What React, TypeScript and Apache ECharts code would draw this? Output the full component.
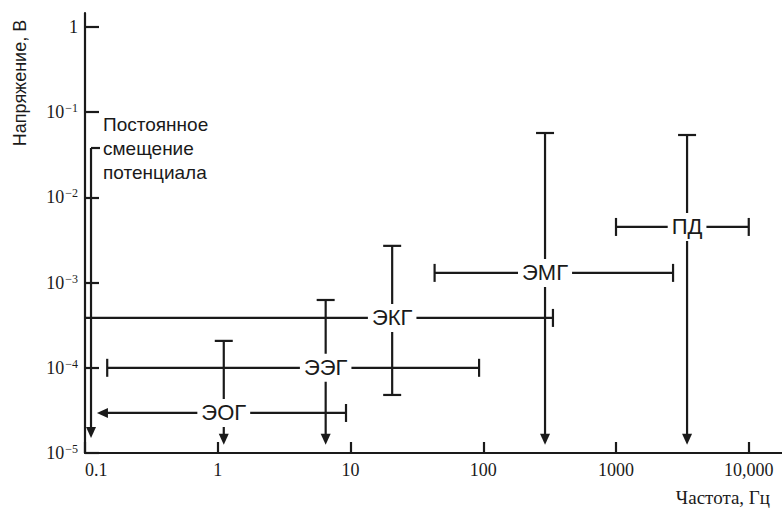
import { useEffect, useRef } from 'react';
import * as echarts from 'echarts';

// Axis ticks (log scales)
const freqTicks = [0.1, 1, 10, 100, 1000, 10000];
const freqTickLabels = ['0.1', '1', '10', '100', '1000', '10,000'];
const voltTicks = [1e-5, 1e-4, 1e-3, 1e-2, 1e-1, 1];
const voltExponents = [-5, -4, -3, -2, -1, 0];

// Biopotential signals: typical frequency / amplitude and their ranges
const signalNames = ['ЭОГ', 'ЭЭГ', 'ЭКГ', 'ЭМГ', 'ПД'];
const centerFreq = [1.11, 6.5, 20.6, 292, 3430];
const typicalVolt = [2.95e-5, 1.0e-4, 3.85e-4, 1.3e-3, 4.5e-3];
const freqLow = [0.123, 0.147, 0.1, 43, 1000];
const freqHigh = [9.25, 93, 335, 2690, 10000];
const voltLow = [1.25e-5, 1.25e-5, 4.8e-5, 1.25e-5, 1.25e-5];
const voltHigh = [2.07e-4, 6.25e-4, 2.7e-3, 0.057, 0.054];
// How the low ends of each range are drawn
const freqLowEnd = ['arrow', 'cap', 'open', 'cap', 'cap'];
const voltLowEnd = ['arrow', 'arrow', 'cap', 'arrow', 'arrow'];

// DC offset potential
const dcLabel = 'Постоянное\nсмещение\nпотенциала';
const dcFreq = 0.111;
const dcVolt = [1.5e-5, 0.038];

const INK = '#1a1a1a';
const SERIF = '"Liberation Serif", "Times New Roman", serif';
const SANS = '"Liberation Sans", Arial, sans-serif';
const STROKE = 2.2;

const seg = (x1: number, y1: number, x2: number, y2: number) => ({
  type: 'line',
  shape: { x1, y1, x2, y2 },
  style: { stroke: INK, lineWidth: STROKE },
});

const ARROW_LEN = 11;
const ARROW_HALF = 5;
// Filled arrow head; (dx, dy) is the unit vector pointing towards the tip
const arrowHead = (tx: number, ty: number, dx: number, dy: number) => {
  const bx = tx - dx * ARROW_LEN;
  const by = ty - dy * ARROW_LEN;
  const px = -dy;
  const py = dx;
  return {
    type: 'polygon',
    shape: {
      points: [
        [tx, ty],
        [bx + px * ARROW_HALF, by + py * ARROW_HALF],
        [bx - px * ARROW_HALF, by - py * ARROW_HALF],
      ],
    },
    style: { fill: INK },
  };
};

const CAP = 9;

const renderRange = (params: any, api: any) => {
  const i = params.dataIndex;
  const cx = api.value(0);
  const cy = api.value(1);
  const c = api.coord([cx, cy]);
  const left = api.coord([api.value(2), cy]);
  const right = api.coord([api.value(3), cy]);
  const bottom = api.coord([cx, api.value(4)]);
  const top = api.coord([cx, api.value(5)]);
  const children: any[] = [];

  // horizontal (frequency) range
  let hx1 = left[0];
  if (freqLowEnd[i] === 'arrow') {
    children.push(arrowHead(left[0], left[1], -1, 0));
    hx1 = left[0] + ARROW_LEN - 1;
  } else if (freqLowEnd[i] === 'cap') {
    children.push(seg(left[0], left[1] - CAP, left[0], left[1] + CAP));
  }
  children.push(seg(hx1, c[1], right[0], c[1]));
  children.push(seg(right[0], right[1] - CAP, right[0], right[1] + CAP));

  // vertical (amplitude) range
  let vy2 = bottom[1];
  if (voltLowEnd[i] === 'arrow') {
    children.push(arrowHead(bottom[0], bottom[1], 0, 1));
    vy2 = bottom[1] - ARROW_LEN + 1;
  } else {
    children.push(seg(bottom[0] - CAP, bottom[1], bottom[0] + CAP, bottom[1]));
  }
  children.push(seg(c[0], top[1], c[0], vy2));
  children.push(seg(top[0] - CAP, top[1], top[0] + CAP, top[1]));

  children.push({
    type: 'text',
    style: {
      text: signalNames[i],
      x: c[0],
      y: c[1],
      align: 'center',
      verticalAlign: 'middle',
      font: `22px ${SANS}`,
      fill: INK,
      backgroundColor: '#fff',
      padding: [3, 4],
    },
  });
  return { type: 'group', children };
};

const renderDc = (params: any, api: any) => {
  const x = api.value(0);
  const bottom = api.coord([x, api.value(1)]);
  const top = api.coord([x, api.value(2)]);
  return {
    type: 'group',
    children: [
      seg(top[0], top[1], top[0], bottom[1] - ARROW_LEN + 1),
      arrowHead(bottom[0], bottom[1], 0, 1),
      seg(top[0], top[1], top[0] + CAP, top[1]),
      {
        type: 'text',
        style: {
          text: dcLabel,
          x: top[0] + 12,
          y: top[1],
          align: 'left',
          verticalAlign: 'middle',
          font: `19px ${SANS}`,
          lineHeight: 24,
          fill: INK,
        },
      },
    ],
  };
};

const sameLog = (a: number, b: number) => Math.abs(Math.log10(a) - Math.log10(b)) < 1e-6;

export default function App() {
  const ref = useRef<HTMLDivElement>(null);

  useEffect(() => {
    if (!ref.current) return;
    const chart = echarts.init(ref.current, null, { renderer: 'svg' });

    const rangeData = signalNames.map((_, i) => [
      centerFreq[i],
      typicalVolt[i],
      freqLow[i],
      freqHigh[i],
      voltLow[i],
      voltHigh[i],
    ]);

    chart.setOption({
      animation: false,
      backgroundColor: '#fff',
      grid: { left: 85, right: 0, top: 13, bottom: 60 },
      xAxis: {
        type: 'log',
        logBase: 10,
        min: 0.1,
        max: 17800,
        axisLine: { show: true, lineStyle: { color: INK, width: STROKE } },
        axisTick: {
          show: true,
          inside: true,
          length: 11,
          lineStyle: { color: INK, width: STROKE },
          customValues: freqTicks,
        },
        axisLabel: {
          customValues: freqTicks,
          formatter: (v: number) => {
            const k = freqTicks.findIndex((t) => sameLog(t, v));
            return k >= 0 ? freqTickLabels[k] : '';
          },
          color: INK,
          fontFamily: SERIF,
          fontSize: 18,
          margin: 8,
          alignMinLabel: 'left',
        },
        splitLine: { show: false },
      },
      yAxis: {
        type: 'log',
        logBase: 10,
        min: 1e-5,
        max: 1.46,
        axisLine: { show: true, lineStyle: { color: INK, width: STROKE } },
        axisTick: {
          show: true,
          inside: true,
          length: 14,
          lineStyle: { color: INK, width: STROKE },
          customValues: voltTicks,
        },
        axisLabel: {
          customValues: voltTicks,
          formatter: (v: number) => {
            const k = voltTicks.findIndex((t) => sameLog(t, v));
            if (k < 0) return '';
            const e = voltExponents[k];
            return e === 0 ? '{b|1}' : `{b|10}{s|−${Math.abs(e)}}`;
          },
          margin: 7,
          rich: {
            b: { fontSize: 18, fontFamily: SERIF, color: INK, lineHeight: 20 },
            s: { fontSize: 12, fontFamily: SERIF, color: INK, verticalAlign: 'top', lineHeight: 20, padding: [0, 0, 6, 1] },
          },
        },
        splitLine: { show: false },
      },
      graphic: [
        {
          type: 'text',
          x: 20,
          y: 83,
          rotation: Math.PI / 2,
          style: {
            text: 'Напряжение, В',
            font: `18px ${SANS}`,
            fill: INK,
            align: 'center',
            verticalAlign: 'middle',
          },
        },
        {
          type: 'text',
          x: 770,
          y: 497,
          style: {
            text: 'Частота, Гц',
            font: `19px ${SERIF}`,
            fill: INK,
            align: 'right',
            verticalAlign: 'middle',
          },
        },
      ],
      series: [
        {
          type: 'custom',
          name: 'dc',
          renderItem: renderDc,
          data: [[dcFreq, dcVolt[0], dcVolt[1]]],
          encode: { x: 0, y: [1, 2] },
          clip: false,
        },
        {
          type: 'custom',
          name: 'signals',
          renderItem: renderRange,
          data: rangeData,
          encode: { x: [0, 2, 3], y: [1, 4, 5] },
          clip: false,
        },
      ],
    });

    return () => chart.dispose();
  }, []);

  return (
    <div
      ref={ref}
      style={{ position: 'fixed', left: 0, top: 0, width: 782, height: 513, background: '#fff' }}
    />
  );
}
